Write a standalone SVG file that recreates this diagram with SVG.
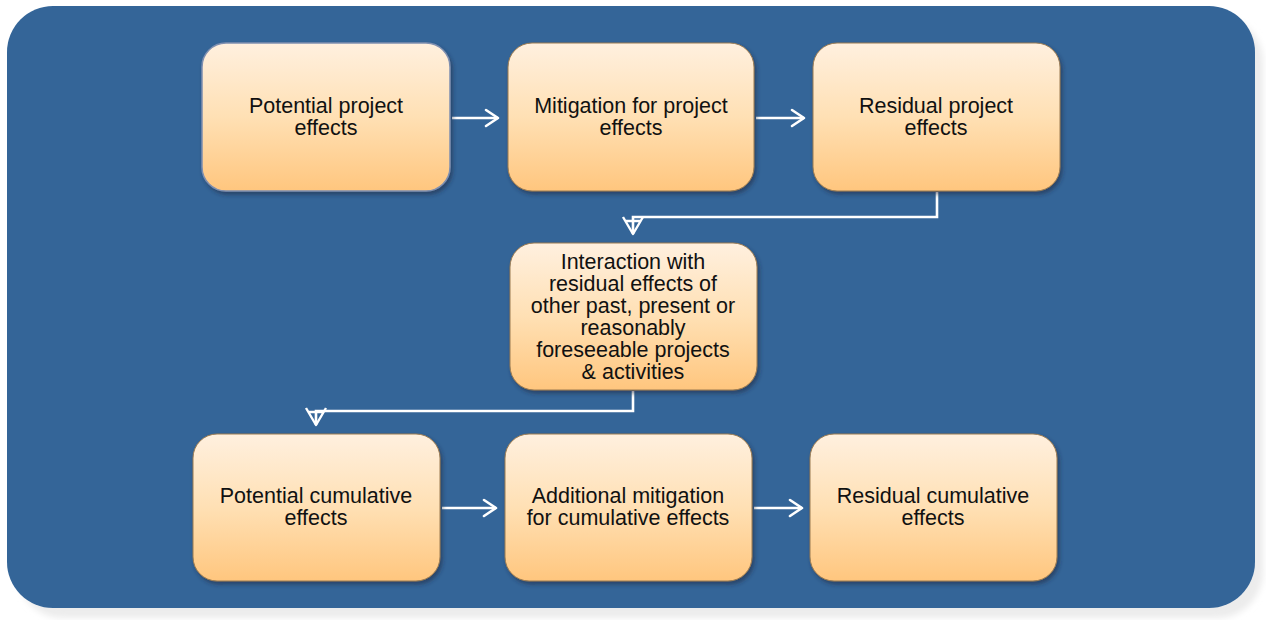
<svg xmlns="http://www.w3.org/2000/svg" width="1266" height="620" viewBox="0 0 1266 620">
  <defs>
    <linearGradient id="boxFill" x1="0" y1="0" x2="0" y2="1">
      <stop offset="0" stop-color="#FFF0DF"/>
      <stop offset="0.5" stop-color="#FFE0B4"/>
      <stop offset="1" stop-color="#FFC67E"/>
    </linearGradient>
    <filter id="boxShadow" x="-10%" y="-10%" width="125%" height="130%">
      <feDropShadow dx="2" dy="3" stdDeviation="2" flood-color="#1a2a40" flood-opacity="0.55"/>
    </filter>
    <filter id="panelShadow" x="-5%" y="-5%" width="110%" height="110%">
      <feGaussianBlur stdDeviation="3"/>
    </filter>
    <marker id="chevron" viewBox="0 0 20 20" refX="15" refY="10" markerWidth="20" markerHeight="20" markerUnits="userSpaceOnUse" orient="auto">
      <path d="M3,2 L15,10 L3,18" fill="none" stroke="#FFFFFF" stroke-width="2.6" stroke-linecap="round" stroke-linejoin="round"/>
    </marker>
    <marker id="vee" viewBox="0 0 24 24" refX="20" refY="12" markerWidth="24" markerHeight="24" markerUnits="userSpaceOnUse" orient="auto">
      <path d="M3,2 L20,12 L3,22 M7,4.5 L7,19.5" fill="none" stroke="#FFFFFF" stroke-width="2.4" stroke-linejoin="round"/>
    </marker>
  </defs>
  <style>
    .node rect { fill: url(#boxFill); stroke: #9a7a50; stroke-width: 1; filter: url(#boxShadow); }
    .node text { font-family: "Liberation Sans", Arial, sans-serif; font-size: 21.5px; fill: #111111; text-anchor: middle; }
    .conn { fill: none; stroke: #FFFFFF; stroke-width: 2.6; }
  </style>

  <!-- page and panel -->
  <rect x="0" y="0" width="1266" height="620" fill="#FFFFFF"/>
  <rect x="17" y="16" width="1246" height="602" rx="46" fill="#ECECEC" filter="url(#panelShadow)"/>
  <rect x="7" y="6" width="1248" height="602" rx="46" fill="#346598"/>

  <!-- connectors -->
  <g id="connectors">
    <path class="conn" d="M452,118 L498,118" marker-end="url(#chevron)"/>
    <path class="conn" d="M756,118 L804,118" marker-end="url(#chevron)"/>
    <path class="conn" d="M937,192 L937,217 L633,217 L633,234" marker-end="url(#vee)"/>
    <path class="conn" d="M633,391 L633,411 L316,411 L316,425" marker-end="url(#vee)"/>
    <path class="conn" d="M442,508 L496,508" marker-end="url(#chevron)"/>
    <path class="conn" d="M754,508 L802,508" marker-end="url(#chevron)"/>
  </g>

  <!-- row 1 -->
  <g id="potential-project-effects" class="node">
    <rect x="202" y="43" width="248" height="148" rx="24" style="stroke:#7f8fb0;stroke-width:1.5"/>
    <text x="326" y="113">Potential project</text>
    <text x="326" y="135">effects</text>
  </g>
  <g id="mitigation-project-effects" class="node">
    <rect x="508" y="43" width="246" height="148" rx="24"/>
    <text x="631" y="113">Mitigation for project</text>
    <text x="631" y="135">effects</text>
  </g>
  <g id="residual-project-effects" class="node">
    <rect x="813" y="43" width="247" height="148" rx="24"/>
    <text x="936" y="113">Residual project</text>
    <text x="936" y="135">effects</text>
  </g>

  <!-- row 2 -->
  <g id="interaction" class="node">
    <rect x="510" y="243" width="247" height="147" rx="24"/>
    <text x="633" y="269">Interaction with</text>
    <text x="633" y="291">residual effects of</text>
    <text x="633" y="313">other past, present or</text>
    <text x="633" y="335">reasonably</text>
    <text x="633" y="357">foreseeable projects</text>
    <text x="633" y="379">&amp; activities</text>
  </g>

  <!-- row 3 -->
  <g id="potential-cumulative-effects" class="node">
    <rect x="193" y="434" width="247" height="147" rx="24"/>
    <text x="316" y="503">Potential cumulative</text>
    <text x="316" y="525">effects</text>
  </g>
  <g id="additional-mitigation" class="node">
    <rect x="505" y="434" width="247" height="147" rx="24"/>
    <text x="628" y="503">Additional mitigation</text>
    <text x="628" y="525">for cumulative effects</text>
  </g>
  <g id="residual-cumulative-effects" class="node">
    <rect x="810" y="434" width="247" height="147" rx="24"/>
    <text x="933" y="503">Residual cumulative</text>
    <text x="933" y="525">effects</text>
  </g>
</svg>
